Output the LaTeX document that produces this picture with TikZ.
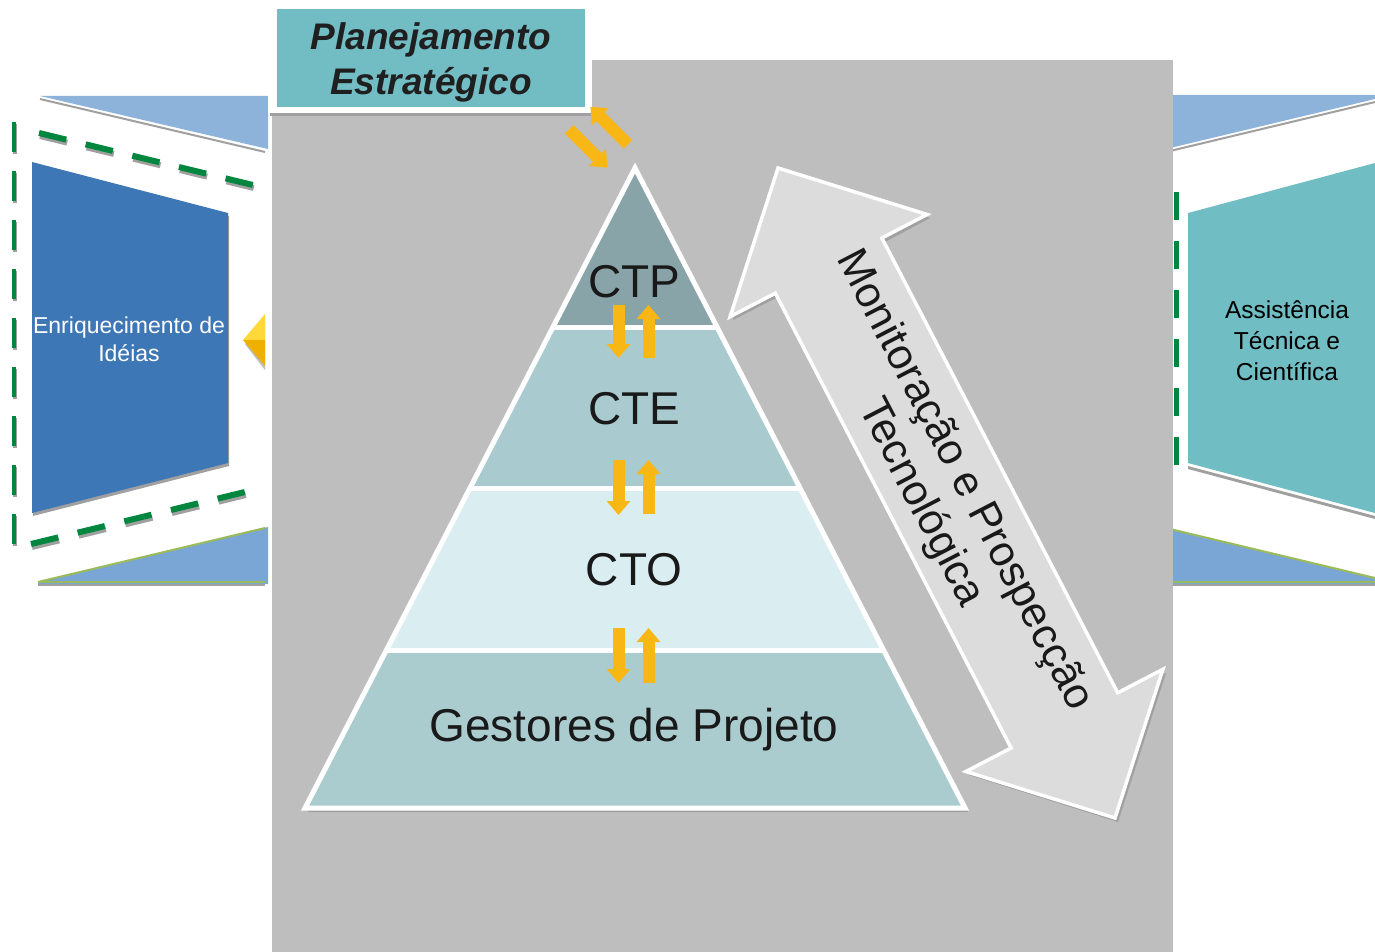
\documentclass[tikz,border=0pt]{standalone}
\usepackage{fontspec}
\setmainfont{Liberation Sans}
\usetikzlibrary{arrows.meta}
\definecolor{panelgray}{HTML}{BEBEBE}
\definecolor{wedgetop}{HTML}{8DB3DA}
\definecolor{wedgebot}{HTML}{79A6D5}
\definecolor{darkblue}{HTML}{3E77B6}
\definecolor{tealbox}{HTML}{70BDC3}
\definecolor{titleteal}{HTML}{72BCC4}
\definecolor{dgreen}{HTML}{00863F}
\definecolor{olive}{HTML}{9BBB59}
\definecolor{shadowgray}{HTML}{A0A0A0}
\definecolor{ctpcol}{HTML}{88A4A8}
\definecolor{ctecol}{HTML}{A9CBCF}
\definecolor{ctocol}{HTML}{DAEDF0}
\definecolor{gescol}{HTML}{AACCCF}
\definecolor{arrowgray}{HTML}{DCDCDC}
\definecolor{ygold}{HTML}{F8B715}
\definecolor{ylight}{HTML}{FFD83A}
\definecolor{ydark}{HTML}{F0B000}
\tikzset{
  shadowline/.style={draw=shadowgray, line width=2pt},
  greendash/.style={draw=dgreen, line width=6pt, dash pattern=on 28pt off 20pt},
  greendashshadow/.style={draw=shadowgray, line width=6pt, dash pattern=on 28pt off 20pt},
  vdash/.style={draw=dgreen, line width=4pt, dash pattern=on 30pt off 19pt},
  yarrow/.style={draw=ygold, line width=12pt, -{Triangle[width=23pt,length=14pt]}},
  pyrlabel/.style={font=\fontsize{46}{52}\selectfont, text=black!90},
  bandline/.style={draw=white, line width=5pt, line join=miter}
}
\begin{document}
\begin{tikzpicture}[x=1pt,y=-1pt]
\useasboundingbox[fill=white] (0,0) rectangle (1375,952);

% ---------- left side ----------
\fill[wedgetop] (40,96) -- (268,96) -- (268,149) -- cycle;
\draw[shadowline] (40,99) -- (265,152);
\fill[wedgebot] (38,582) -- (268,527) -- (268,584) -- (38,584) -- cycle;
\draw[olive, line width=2pt] (38,582) -- (265,528);
\draw[olive, line width=2pt] (38,582) -- (265,582);
\draw[shadowline, line width=1.5pt] (38,585) -- (265,585);

% green dashed frame (left)
\draw[greendashshadow] (40,136) -- (258,189);
\draw[greendash] (39,133) -- (257,186);
\draw[greendashshadow] (32,547) -- (250,494);
\draw[greendash] (31,544) -- (249,491);
\draw[draw=shadowgray, line width=4pt, dash pattern=on 30pt off 19pt] (15,124) -- (15,550);
\draw[vdash] (14,122) -- (14,548);

% dark blue box
\fill[shadowgray] (33,165) -- (229,216) -- (229,466) -- (33,516) -- cycle;
\fill[darkblue] (32,162) -- (228,213) -- (228,463) -- (32,513) -- cycle;
\node[text=white, font=\fontsize{23}{28}\selectfont, align=center] (enr) at (129,339) {Enriquecimento de\\Idéias};

% yellow arrowhead
\fill[shadowgray!70] (245,344) -- (265,320) -- (265,370) -- cycle;
\fill[ylight] (243,340) -- (265,314) -- (265,340) -- cycle;
\fill[ydark] (243,340) -- (265,366) -- (265,340) -- cycle;

% ---------- right side ----------
\fill[wedgetop] (1170,95) -- (1375,95) -- (1375,99) -- (1170,148) -- cycle;
\draw[shadowline] (1170,151) -- (1375,102);
\fill[wedgebot] (1170,529) -- (1375,578) -- (1375,584) -- (1170,584) -- cycle;
\draw[olive, line width=2pt] (1170,529) -- (1375,578);
\draw[olive, line width=2pt] (1170,582) -- (1375,582);
\draw[shadowline, line width=1.5pt] (1170,585) -- (1375,585);

\fill[shadowgray] (1188,466) -- (1375,516) -- (1375,519) -- (1188,469) -- cycle;
\fill[tealbox] (1188,213) -- (1375,163) -- (1375,513) -- (1188,463) -- cycle;
\node[text=black, font=\fontsize{24.5}{31}\selectfont, align=center] (ast) at (1287,341) {Assistência\\Técnica e\\Científica};

% ---------- central gray panel ----------
\fill[panelgray] (272,60) rectangle (1173,952);

% right green dashes (on panel edge)
\draw[draw=dgreen, line width=5pt, dash pattern=on 28pt off 21pt] (1176,192) -- (1176,470);

% ---------- title box ----------
\fill[shadowgray] (270,112) rectangle (594,116);
\fill[white] (268,3) rectangle (592,113);
\fill[titleteal] (277,9) rectangle (585,107);
\node[font=\bfseries\itshape\fontsize{37}{45}\selectfont, text=black!88, align=center] (plan) at (431,62) {Planejamento\\Estratégico};

% ---------- pyramid ----------
\fill[shadowgray] (638,172) -- (968,812) -- (308,812) -- cycle;
\fill[ctpcol] (635,168) -- (717,327) -- (553,327) -- cycle;
\fill[ctecol] (553,327) -- (717,327) -- (800,488) -- (470,488) -- cycle;
\fill[ctocol] (470,488) -- (800,488) -- (883.5,650) -- (386.5,650) -- cycle;
\fill[gescol] (386.5,650) -- (883.5,650) -- (965,808) -- (305,808) -- cycle;
\draw[bandline] (553,327) -- (717,327);
\draw[bandline] (470,488) -- (800,488);
\draw[bandline] (386.5,650) -- (883.5,650);
\draw[bandline] (635,168) -- (965,808) -- (305,808) -- cycle;

\node[pyrlabel] (ctp) at (634,282) {CTP};
\node[pyrlabel] (cte) at (634,409) {CTE};
\node[pyrlabel] (cto) at (634,570) {CTO};
\node[pyrlabel] (ges) at (634,730) {Gestores de Projeto};

% small yellow arrows
\draw[yarrow] (618.5,305) -- (618.5,358);
\draw[yarrow] (648.5,358) -- (648.5,305);
\draw[yarrow] (618.5,460) -- (618.5,515);
\draw[yarrow] (648.5,514) -- (648.5,460);
\draw[yarrow] (618.5,628) -- (618.5,683);
\draw[yarrow] (648.5,683) -- (648.5,628);

% diagonal arrows under title
\draw[yarrow] (628,144.3) -- (590.4,106.8);
\draw[yarrow] (569.2,129.4) -- (607.4,167.6);

% ---------- big double arrow ----------
\fill[shadowgray] (781,172) -- (930,218) -- (885,242) -- (1121,697) -- (1166,673) -- (1118,822) -- (969,775) -- (1014,752) -- (778,297) -- (733,320) -- cycle;
\draw[fill=arrowgray, draw=white, line width=3.5pt, line join=miter]
  (778,168) -- (927.1,214.5) -- (881.9,238.0) -- (1117.7,692.8) -- (1162.9,669.3)
  -- (1115,818) -- (965.9,771.5) -- (1011.1,748.0) -- (775.3,293.2) -- (730.1,316.7) -- cycle;
\node[rotate=-62.6, font=\fontsize{43}{49}\selectfont, text=black!90, align=center] (mon) at (942,492) {Monitoração e Prospecção\\Tecnológica};

\end{tikzpicture}
\end{document}
